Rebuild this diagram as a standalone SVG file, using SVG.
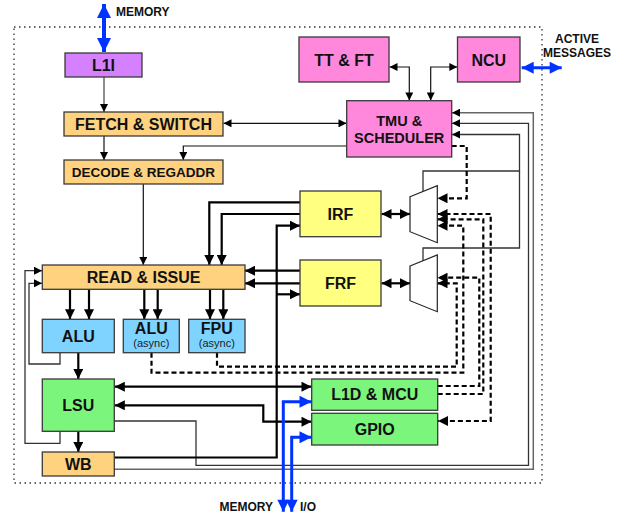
<svg xmlns="http://www.w3.org/2000/svg" width="628" height="517" viewBox="0 0 628 517">
  <style>
    .box { stroke: #3a3a3a; stroke-width: 1.3; }
    .purple { fill: #D580FF; }
    .orange { fill: #FFD27F; }
    .pink { fill: #FF88DC; }
    .yellow { fill: #FFFF80; }
    .blue { fill: #7FD4FF; }
    .green { fill: #7CF57C; }
    .mux { fill: #ffffff; stroke: #222; stroke-width: 1.2; }
    text { font-family: "Liberation Sans", Arial, Helvetica, sans-serif; font-weight: bold; fill: #111; text-anchor: middle; }
    .t16 { font-size: 16px; }
    .t14 { font-size: 14.5px; }
    .t13 { font-size: 13.5px; }
    .small { font-size: 11px; font-weight: normal; fill: #222; }
    .lbl { font-size: 12px; }
    .thin { fill: none; stroke: #111; stroke-width: 1.2; }
    .gray { fill: none; stroke: #666; stroke-width: 1.5; }
    .mid { fill: none; stroke: #333; stroke-width: 1.3; }
    .thick { fill: none; stroke: #000; stroke-width: 2.2; }
    .dash { fill: none; stroke: #000; stroke-width: 2.2; stroke-dasharray: 5 3; }
    .bus { fill: none; stroke: #0033FF; }
  </style>
  <defs>
    <marker id="ah" viewBox="0 0 10 10" refX="10" refY="5" markerWidth="9" markerHeight="8" orient="auto-start-reverse" markerUnits="userSpaceOnUse">
      <path d="M0,0 L10,5 L0,10 z" fill="#000"/>
    </marker>
    <marker id="ahk" viewBox="0 0 10 10" refX="10" refY="5" markerWidth="12" markerHeight="10" orient="auto-start-reverse" markerUnits="userSpaceOnUse">
      <path d="M0,0 L10,5 L0,10 z" fill="#000"/>
    </marker>
    <marker id="ahb" viewBox="0 0 10 10" refX="10" refY="5" markerWidth="17" markerHeight="14" orient="auto-start-reverse" markerUnits="userSpaceOnUse">
      <path d="M0,0 L10,5 L0,10 z" fill="#0033FF"/>
    </marker>
    <marker id="ahb2" viewBox="0 0 10 10" refX="10" refY="5" markerWidth="16" markerHeight="12" orient="auto-start-reverse" markerUnits="userSpaceOnUse">
      <path d="M0,0 L10,5 L0,10 z" fill="#0033FF"/>
    </marker>
  </defs>

  <!-- chip boundary -->
  <rect x="14" y="27" width="528" height="456" fill="none" stroke="#333" stroke-width="1.3" stroke-dasharray="1.5 3.5"/>

  <!-- connectors -->
  <g id="connectors">
    <!-- front end -->
    <path class="gray" d="M104,77 V112" marker-end="url(#ah)"/>
    <path class="thin" d="M104,136 V160" marker-end="url(#ah)"/>
    <path class="thin" d="M223.5,123.3 H346.5" marker-start="url(#ah)" marker-end="url(#ah)"/>
    <path class="thin" d="M346.7,146 H183.3 V160" marker-end="url(#ah)"/>
    <path class="thin" d="M389.5,67 H409.3 V100.5" marker-start="url(#ah)" marker-end="url(#ah)"/>
    <path class="thin" d="M457.3,67 H430.7 V100.5" marker-start="url(#ah)" marker-end="url(#ah)"/>
    <path class="thin" d="M143.3,184 V265" marker-end="url(#ah)"/>

    <!-- loopbacks into READ & ISSUE -->
    <path class="mid" d="M60,352.7 V364 H29 V283.3 H42" marker-end="url(#ah)"/>
    <path class="mid" d="M60,431.3 V443.3 H25 V270.7 H42" marker-end="url(#ah)"/>

    <!-- feedback to TMU & scheduler -->
    <path class="gray" d="M114.3,469.3 H533.3 V112.7 H452" marker-end="url(#ah)"/>
    <path class="mid" d="M114.3,421 H196 V465.3 H528.5 V123.3 H452" marker-end="url(#ah)"/>
    <path class="mid" d="M423,191.5 V171 H519.5 V134.5 H452" marker-end="url(#ah)"/>
    <path class="mid" d="M423,260.8 V248 H519.5 V171"/>

    <!-- register file reads -->
    <path class="thick" d="M300,202.3 H209.3 V265" marker-end="url(#ahk)"/>
    <path class="thick" d="M300,214 H221.7 V265" marker-end="url(#ahk)"/>
    <path class="thick" d="M300,270.7 H245" marker-end="url(#ahk)"/>
    <path class="thick" d="M300,283.3 H245" marker-end="url(#ahk)"/>

    <!-- issue to execution units -->
    <path class="thick" d="M70,289.3 V319.3" marker-end="url(#ahk)"/>
    <path class="thick" d="M89,289.3 V319.3" marker-end="url(#ahk)"/>
    <path class="thick" d="M144.3,289.3 V319.3" marker-end="url(#ahk)"/>
    <path class="thick" d="M157.7,289.3 V319.3" marker-end="url(#ahk)"/>
    <path class="thick" d="M210,289.3 V319.3" marker-end="url(#ahk)"/>
    <path class="thick" d="M223.3,289.3 V319.3" marker-end="url(#ahk)"/>
    <path class="thick" d="M78.3,352.7 V379" marker-end="url(#ahk)"/>
    <path class="thick" d="M78.3,431.3 V452" marker-end="url(#ahk)"/>

    <!-- register files to muxes -->
    <path class="thick" d="M381.5,214 H410" marker-start="url(#ahk)" marker-end="url(#ahk)"/>
    <path class="thick" d="M381.5,283.3 H410" marker-start="url(#ahk)" marker-end="url(#ahk)"/>

    <!-- load/store paths -->
    <path class="thick" d="M114.8,386.7 H311.5" marker-start="url(#ahk)" marker-end="url(#ahk)"/>
    <path class="thick" d="M114.8,405.3 H263.3 V421.7 H311.5" marker-start="url(#ahk)" marker-end="url(#ahk)"/>

    <!-- writeback -->
    <path class="thick" d="M114.3,457.5 H276.7 V225.7 H300" marker-end="url(#ahk)"/>
    <path class="thick" d="M276.7,294.3 H300" marker-end="url(#ahk)"/>

    <!-- asynchronous writes into the mux inputs -->
    <path class="dash" d="M451.7,146 H466.7 V198.3 H437.5" marker-end="url(#ahk)"/>
    <path class="dash" d="M151.5,352.7 V372.7 H463.3 V225.7 H437.5" marker-end="url(#ahk)"/>
    <path class="dash" d="M217,352.7 V366.7 H456.7 V283.3 H437.5" marker-end="url(#ahk)"/>
    <path class="dash" d="M437.7,386 H479.3 V277.7 H437.5" marker-end="url(#ahk)"/>
    <path class="dash" d="M437.7,394 H483.3 V219.3 H437.5" marker-end="url(#ahk)"/>
    <path class="dash" d="M437.5,214 H490.7 V421 H438" marker-start="url(#ahk)" marker-end="url(#ahk)"/>

    <!-- external buses -->
    <path class="bus" stroke-width="4" d="M104,4 V52" marker-start="url(#ahb)" marker-end="url(#ahb)"/>
    <path class="bus" stroke-width="3" d="M521.7,67.7 H561.7" marker-start="url(#ahb2)" marker-end="url(#ahb2)"/>
    <path class="bus" stroke-width="3" d="M283.3,511.7 V401.7 H311.5" marker-start="url(#ahb2)" marker-end="url(#ahb2)"/>
    <path class="bus" stroke-width="3" d="M291.7,511.7 V437.3 H311.5" marker-start="url(#ahb2)" marker-end="url(#ahb2)"/>
  </g>

  <!-- nodes -->
  <g id="l1i">
    <rect class="box purple" x="65" y="53" width="77" height="24"/>
    <text class="t16" x="103.5" y="70.8">L1I</text>
  </g>
  <g id="ttft">
    <rect class="box pink" x="299" y="37" width="90" height="45"/>
    <text class="t16" x="344" y="65.5">TT &amp; FT</text>
  </g>
  <g id="ncu">
    <rect class="box pink" x="457.5" y="37" width="62.5" height="45"/>
    <text class="t16" x="488.8" y="65.5">NCU</text>
  </g>
  <g id="fetch">
    <rect class="box orange" x="64" y="112" width="159" height="24"/>
    <text class="t16" x="143.5" y="129.7">FETCH &amp; SWITCH</text>
  </g>
  <g id="decode">
    <rect class="box orange" x="64" y="160" width="159" height="24"/>
    <text class="t13" x="143.5" y="176.8">DECODE &amp; REGADDR</text>
  </g>
  <g id="tmu">
    <rect class="box pink" x="346.7" y="100.7" width="105" height="56.3"/>
    <text class="t14" x="399.2" y="126">TMU &amp;</text>
    <text class="t14" x="399.2" y="142.7">SCHEDULER</text>
  </g>
  <g id="irf">
    <rect class="box yellow" x="300" y="191" width="81" height="45.7"/>
    <text class="t16" x="340.5" y="219.5">IRF</text>
  </g>
  <g id="frf">
    <rect class="box yellow" x="300" y="260" width="81" height="46"/>
    <text class="t16" x="340.5" y="288.8">FRF</text>
  </g>
  <g id="irf-mux">
    <polygon class="mux" points="410,196.7 437.3,185.7 437.3,242.7 410,231.7"/>
  </g>
  <g id="frf-mux">
    <polygon class="mux" points="410,266 437.3,255 437.3,311.7 410,300.7"/>
  </g>
  <g id="read-issue">
    <rect class="box orange" x="42.3" y="265" width="202.7" height="24.3"/>
    <text class="t16" x="143.6" y="283">READ &amp; ISSUE</text>
  </g>
  <g id="alu">
    <rect class="box blue" x="42.3" y="319.3" width="72" height="33.4"/>
    <text class="t16" x="78.3" y="341.7">ALU</text>
  </g>
  <g id="alu-async">
    <rect class="box blue" x="123.3" y="319.3" width="56" height="33.4"/>
    <text class="t16" x="151.3" y="333.5">ALU</text>
    <text class="small" x="151.3" y="347.3">(async)</text>
  </g>
  <g id="fpu-async">
    <rect class="box blue" x="188.7" y="319.3" width="56.3" height="33.4"/>
    <text class="t16" x="216.8" y="333.5">FPU</text>
    <text class="small" x="216.8" y="347.3">(async)</text>
  </g>
  <g id="lsu">
    <rect class="box green" x="42.3" y="379" width="72" height="52.3"/>
    <text class="t16" x="78.3" y="410.7">LSU</text>
  </g>
  <g id="wb">
    <rect class="box orange" x="42.3" y="452" width="72" height="24"/>
    <text class="t16" x="78.3" y="469.7">WB</text>
  </g>
  <g id="l1d-mcu">
    <rect class="box green" x="311.7" y="379" width="126" height="31.3"/>
    <text class="t16" x="374.7" y="400.4">L1D &amp; MCU</text>
  </g>
  <g id="gpio">
    <rect class="box green" x="311.7" y="413.3" width="126" height="31.7"/>
    <text class="t16" x="374.7" y="434.9">GPIO</text>
  </g>

  <!-- external interface labels -->
  <g id="labels">
    <text class="lbl" x="116" y="16" style="text-anchor:start">MEMORY</text>
    <text class="lbl" x="577" y="43">ACTIVE</text>
    <text class="lbl" x="577" y="57">MESSAGES</text>
    <text class="lbl" x="273" y="511" style="text-anchor:end">MEMORY</text>
    <text class="lbl" x="300" y="511" style="text-anchor:start">I/O</text>
  </g>
</svg>
